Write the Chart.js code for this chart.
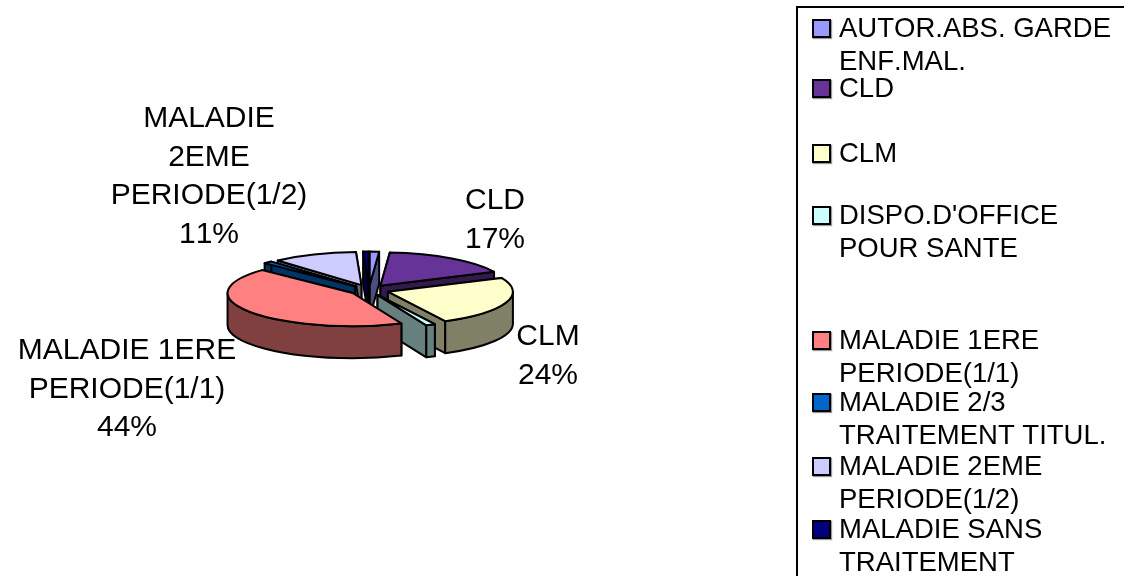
<!DOCTYPE html>
<html>
<head>
<meta charset="utf-8">
<title>Absences</title>
<script src="https://cdn.jsdelivr.net/npm/chart.js@4"></script>
<style>
    html, body { margin: 0; padding: 0; background: #fff; overflow: hidden; }
    #wrap { position: relative; width: 1124px; height: 576px; overflow: hidden; }
    #pie { position: absolute; left: 0; top: 0; }
    #legendBox {
        position: absolute; left: 796px; top: 6px; width: 340px; height: 600px;
        border: 2px solid #000; box-sizing: border-box;
    }
    .swatch {
        position: absolute; left: 812px; width: 15px; height: 15px;
        border: 2px solid #000; box-shadow: 1px 1px 1px #999;
    }
    .legendText {
        position: absolute; left: 839px; white-space: pre; color: #000;
        font: 27.5px "Liberation Sans", Arial, sans-serif; line-height: 34px;
        font-kerning: none;
    }
</style>
</head>
<body>
<div id="wrap">
    <canvas id="pie" width="1124" height="576"></canvas>
    <div id="legendBox"></div>
</div>
<script>
const categories = [
    "AUTOR.ABS. GARDE ENF.MAL.", "CLD", "CLM", "DISPO.D'OFFICE POUR SANTE",
    "MALADIE 1ERE PERIODE(1/1)", "MALADIE 2/3 TRAITEMENT TITUL.",
    "MALADIE 2EME PERIODE(1/2)", "MALADIE SANS TRAITEMENT"
];
const shares = [1.2, 17, 24.3, 1.2, 43.6, 1.2, 11, 0.7];
const topColors = ['#9999ff', '#663399', '#ffffcc', '#ccffff', '#ff8080', '#0066cc', '#ccccff', '#000080'];
const sideColors = ['#4d4d80', '#331a4d', '#808066', '#668080', '#804040', '#003366', '#666680', '#000040'];

// legend rows, wrapped by hand like the box they sit in
const legendLines = [
    ["AUTOR.ABS. GARDE", "ENF.MAL."], ["CLD"], ["CLM"], ["DISPO.D'OFFICE", "POUR SANTE"],
    ["MALADIE 1ERE", "PERIODE(1/1)"], ["MALADIE 2/3", "TRAITEMENT TITUL."],
    ["MALADIE 2EME", "PERIODE(1/2)"], ["MALADIE SANS", "TRAITEMENT"]
];
const legendTops = [11, 71, 136, 198, 323, 385, 449, 512];

// slice captions: category index, wrapped name, centre x, first baseline y
const captions = [
    { idx: 1, lines: ["CLD"], x: 495, y: 209 },
    { idx: 2, lines: ["CLM"], x: 548, y: 345 },
    { idx: 4, lines: ["MALADIE 1ERE", "PERIODE(1/1)"], x: 127, y: 359 },
    { idx: 6, lines: ["MALADIE", "2EME", "PERIODE(1/2)"], x: 209, y: 127 }
];

const tilt = 0.265;   // vertical squash of the pie
const depth = 32;     // wall height in px
const explode = 20;   // how far each slice is pulled out, in px

legendLines.forEach((lines, i) => {
    const wrap = document.getElementById('wrap');
    const sw = document.createElement('div');
    sw.className = 'swatch';
    sw.style.top = (legendTops[i] + 8) + 'px';
    sw.style.background = topColors[i];
    wrap.appendChild(sw);
    lines.forEach((line, j) => {
        const t = document.createElement('div');
        t.className = 'legendText';
        t.textContent = line;
        t.style.top = (legendTops[i] + j * 33) + 'px';
        wrap.appendChild(t);
    });
});

function sliceGeometry(arc) {
    const mid = (arc.startAngle + arc.endAngle) / 2;
    return {
        x: arc.x + Math.cos(mid) * explode,
        y: arc.y + Math.sin(mid) * explode * tilt,
        r: arc.outerRadius,
        start: arc.startAngle,
        end: arc.endAngle,
        mid: mid
    };
}

function ellipsePoint(g, angle) {
    return [g.x + Math.cos(angle) * g.r, g.y + Math.sin(angle) * g.r * tilt];
}

function paintPath(ctx, fill) {
    ctx.fillStyle = fill;
    ctx.fill();
    ctx.strokeStyle = '#000';
    ctx.lineWidth = 2;
    ctx.lineJoin = 'round';
    ctx.stroke();
}

function drawRadialWall(ctx, g, angle, fill) {
    const p = ellipsePoint(g, angle);
    ctx.beginPath();
    ctx.moveTo(g.x, g.y);
    ctx.lineTo(p[0], p[1]);
    ctx.lineTo(p[0], p[1] + depth);
    ctx.lineTo(g.x, g.y + depth);
    ctx.closePath();
    paintPath(ctx, fill);
}

function drawOuterWall(ctx, g, fill) {
    // only the part of the rim that faces the viewer, sin(angle) > 0
    const turn = Math.PI * 2;
    for (let k = -1; k <= 1; k++) {
        const a = Math.max(g.start, k * turn);
        const b = Math.min(g.end, k * turn + Math.PI);
        if (b <= a) continue;
        ctx.beginPath();
        ctx.ellipse(g.x, g.y, g.r, g.r * tilt, 0, a, b);
        ctx.ellipse(g.x, g.y + depth, g.r, g.r * tilt, 0, b, a, true);
        ctx.closePath();
        paintPath(ctx, fill);
    }
}

// tilted pie: walls first, then the library's own arc on a squashed context
const tiltedPie = {
    id: 'tiltedPie',
    beforeDatasetDraw(chart, args) {
        const ctx = chart.ctx;
        const arcs = chart.getDatasetMeta(args.index).data;
        const order = arcs.map((arc, i) => i)
            .sort((a, b) => Math.sin(sliceGeometry(arcs[a]).mid) - Math.sin(sliceGeometry(arcs[b]).mid));
        // the thin wedge goes behind the big slice next to it
        order.splice(order.indexOf(3), 1);
        order.splice(order.indexOf(4), 0, 3);

        order.forEach(i => {
            const arc = arcs[i];
            const g = sliceGeometry(arc);
            ctx.save();
            drawRadialWall(ctx, g, g.start, sideColors[i]);
            drawRadialWall(ctx, g, g.end, sideColors[i]);
            drawOuterWall(ctx, g, sideColors[i]);
            ctx.restore();

            ctx.save();
            ctx.translate(g.x, g.y);
            ctx.scale(1, tilt);
            ctx.translate(-arc.x, -arc.y);
            arc.draw(ctx);
            ctx.restore();

            ctx.beginPath();
            ctx.moveTo(g.x, g.y);
            ctx.ellipse(g.x, g.y, g.r, g.r * tilt, 0, g.start, g.end);
            ctx.closePath();
            ctx.strokeStyle = '#000';
            ctx.lineWidth = 2;
            ctx.lineJoin = 'round';
            ctx.stroke();
        });
        return false;
    },
    afterDraw(chart) {
        const ctx = chart.ctx;
        const total = shares.reduce((a, b) => a + b, 0);
        ctx.save();
        ctx.fillStyle = '#000';
        ctx.font = '30px "Liberation Sans", Arial, sans-serif';
        ctx.fontKerning = 'none';
        ctx.textAlign = 'center';
        captions.forEach(c => {
            const rows = c.lines.concat(Math.round(shares[c.idx] / total * 100) + '%');
            rows.forEach((row, j) => ctx.fillText(row, c.x, c.y + j * 38.5));
        });
        ctx.restore();
    }
};

new Chart(document.getElementById('pie'), {
    type: 'pie',
    data: {
        labels: categories,
        datasets: [{
            data: shares,
            backgroundColor: topColors,
            borderWidth: 0,
            radius: 125
        }]
    },
    options: {
        responsive: false,
        animation: false,
        layout: { padding: { left: 0, right: 386, top: 4, bottom: 0 } },
        plugins: { legend: { display: false }, tooltip: { enabled: false } }
    },
    plugins: [tiltedPie]
});
</script>
</body>
</html>
